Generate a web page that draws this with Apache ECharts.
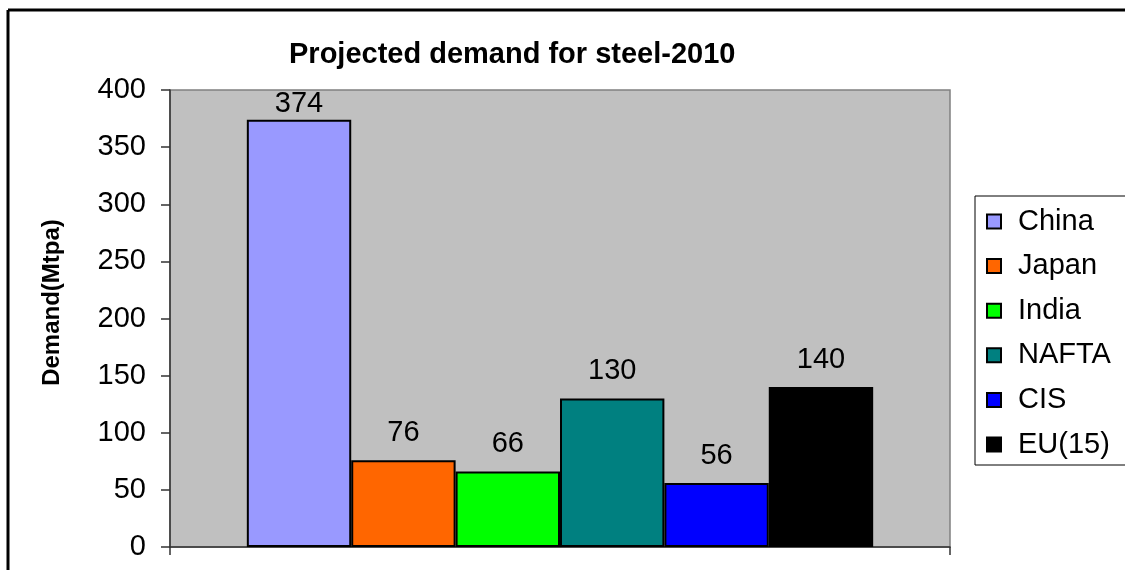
<!DOCTYPE html>
<html>
<head>
<meta charset="utf-8">
<script src="https://cdn.jsdelivr.net/npm/echarts@6/dist/echarts.min.js"></script>
<style>
html,body{margin:0;padding:0;background:#fff;}
#chart{width:1125px;height:570px;}
</style>
</head>
<body>
<div id="chart"></div>
<script>
// ---- data ----
var regions = ['China', 'Japan', 'India', 'NAFTA', 'CIS', 'EU(15)'];
var demand = [374, 76, 66, 130, 56, 140];
var regionColors = ['#9999FF', '#FF6600', '#00FF00', '#008080', '#0000FF', '#000000'];
var yTicks = [0, 50, 100, 150, 200, 250, 300, 350, 400];
var titleText = 'Projected demand for steel-2010';
var yAxisTitle = 'Demand(Mtpa)';

var FONT = '"Liberation Sans", Arial, sans-serif';

var chart = echarts.init(document.getElementById('chart'));

var series = regions.map(function (name, i) {
  return {
    name: name,
    type: 'bar',
    data: [demand[i]],
    barGap: '0%',
    barCategoryGap: '19.7%',
    itemStyle: { color: regionColors[i], borderColor: '#000', borderWidth: 2 },
    label: {
      show: true,
      position: 'top',
      distance: i === 0 ? 1 : 13,
      color: '#000',
      fontFamily: FONT,
      fontSize: 29,
      formatter: '{c}'
    }
  };
});

chart.setOption({
  animation: false,
  backgroundColor: '#fff',
  textStyle: { fontFamily: FONT },
  title: {
    text: titleText,
    left: 284,
    top: 35,
    textStyle: { fontFamily: FONT, fontSize: 29, fontWeight: 'bold', color: '#000' }
  },
  legend: {
    orient: 'vertical',
    left: 975,
    top: 196,
    data: regions,
    icon: 'rect',
    itemWidth: 14,
    itemHeight: 14,
    itemGap: 15.6,
    padding: [11, 40, 6, 11],
    borderColor: '#000',
    borderWidth: 1,
    backgroundColor: '#fff',
    textStyle: { fontFamily: FONT, fontSize: 29, color: '#000', padding: [0, 0, 0, 12] }
  },
  grid: {
    left: 170,
    right: 175,
    top: 90,
    bottom: 23,
    show: true,
    backgroundColor: '#C0C0C0',
    borderColor: '#808080',
    borderWidth: 1.5
  },
  xAxis: {
    type: 'category',
    data: [''],
    axisLine: { show: true, lineStyle: { color: '#333', width: 1.5 } },
    axisTick: { show: true, length: 8, lineStyle: { color: '#333', width: 1.5 } },
    axisLabel: { show: false },
    splitLine: { show: false }
  },
  yAxis: {
    type: 'value',
    min: yTicks[0],
    max: yTicks[yTicks.length - 1],
    interval: yTicks[1] - yTicks[0],
    name: yAxisTitle,
    nameLocation: 'middle',
    nameRotate: 90,
    nameGap: 106,
    nameTextStyle: { fontFamily: FONT, fontSize: 24, fontWeight: 'bold', color: '#000', padding: [0, 0, 0, 32] },
    axisLine: { show: true, lineStyle: { color: '#333', width: 1.5 } },
    axisTick: { show: true, length: 9, lineStyle: { color: '#333', width: 1.5 } },
    axisLabel: { fontFamily: FONT, fontSize: 29, color: '#000', margin: 24 },
    splitLine: { show: false }
  },
  graphic: [
    { type: 'line', shape: { x1: 8, y1: 10, x2: 1125, y2: 10 }, style: { stroke: '#000', lineWidth: 3 }, silent: true },
    { type: 'line', shape: { x1: 8, y1: 10, x2: 8, y2: 570 }, style: { stroke: '#000', lineWidth: 3 }, silent: true }
  ],
  series: series
});
</script>
</body>
</html>
